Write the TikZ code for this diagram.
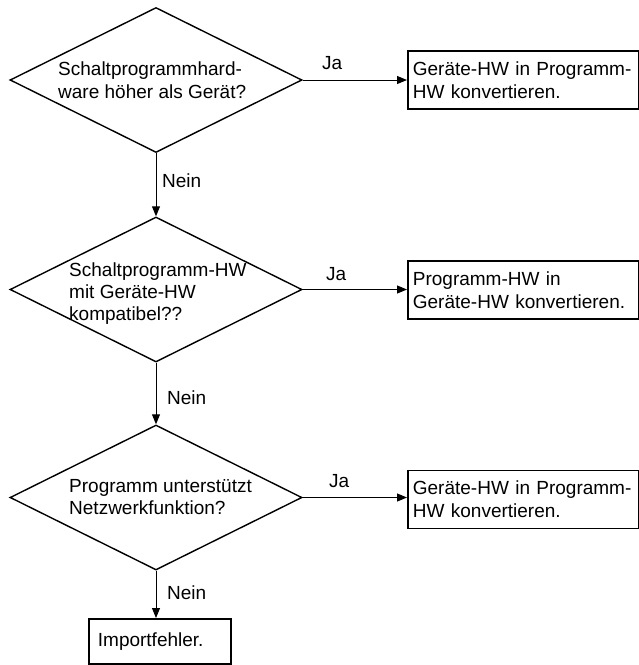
\documentclass[tikz,border=0pt]{standalone}
\usepackage{fontspec}
\setmainfont{Liberation Sans}
\usetikzlibrary{shapes.geometric,arrows.meta}
\begin{document}
\begin{tikzpicture}[x=1pt,y=-1pt,
  font=\fontsize{19}{23}\selectfont,
  decision/.style={shape=diamond,draw,line width=1.4pt,minimum width=292pt,minimum height=145pt,inner sep=0pt},
  txt/.style={anchor=base west,inner sep=0pt,align=left},
  actbox/.style={draw,line width=1.8pt,minimum height=58pt,text width=221pt,inner xsep=5pt,inner ysep=0pt,align=left},
  errbox/.style={draw,line width=1.8pt,minimum height=45pt,text width=124pt,inner xsep=9pt,inner ysep=0pt,align=left},
  flow/.style={line width=1pt,-{Triangle[length=10pt,width=8pt]}},
  lbl/.style={anchor=base west,inner sep=0pt}]
\useasboundingbox (0,0) rectangle (639,665);
% decisions
\node[decision] (d1) at (156,80) {};
\node[decision] (d2) at (156,289.5) {};
\node[decision] (d3) at (156,497.5) {};
\node[txt] (t1a) at (58,75) {Schaltprogrammhard-};
\node[txt] (t1b) at (58,98) {ware höher als Gerät?};
\node[txt] (t2a) at (69,276) {Schaltprogramm-HW};
\node[txt] (t2b) at (69,298) {mit Geräte-HW};
\node[txt] (t2c) at (69,320) {kompatibel??};
\node[txt] (t3a) at (69,492) {Programm unterstützt};
\node[txt] (t3b) at (69,514) {Netzwerkfunktion?};
% action boxes
\node[actbox,anchor=north west] (b1) at (407,50) {Geräte-HW in Programm-\\HW konvertieren.};
\node[actbox,anchor=north west] (b2) at (407,260) {Programm-HW in\\Geräte-HW konvertieren.};
\node[actbox,anchor=north west] (b3) at (407,469.5) {Geräte-HW in Programm-\\HW konvertieren.};
\node[errbox,anchor=north west] (b4) at (88,618) {Importfehler.};
% connectors
\draw[flow] (d1.east) -- (d1.east -| b1.west);
\draw[flow] (d2.east) -- (d2.east -| b2.west);
\draw[flow] (d3.east) -- (d3.east -| b3.west);
\draw[flow] (d1.south) -- (d2.north);
\draw[flow] (d2.south) -- (d3.north);
\draw[flow] (d3.south) -- (d3.south |- b4.north);
% labels
\node[lbl] (j1) at (322,69.5) {Ja};
\node[lbl] (j2) at (326,280) {Ja};
\node[lbl] (j3) at (329,487) {Ja};
\node[lbl] (n1) at (162,187) {Nein};
\node[lbl] (n2) at (167,404) {Nein};
\node[lbl] (n3) at (167,599) {Nein};
\end{tikzpicture}
\end{document}
